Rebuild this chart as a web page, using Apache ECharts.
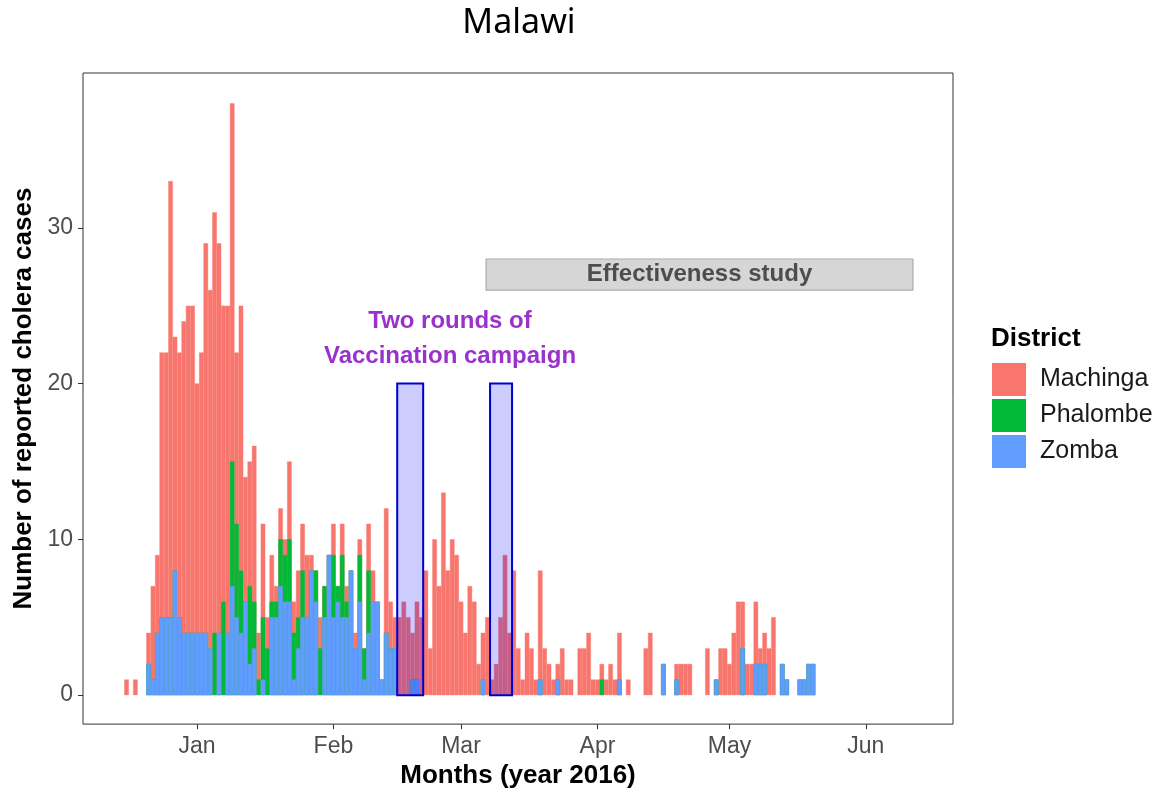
<!DOCTYPE html>
<html>
<head>
<meta charset="utf-8">
<script src="https://cdn.jsdelivr.net/npm/echarts@6/dist/echarts.min.js"></script>
<style>html,body{margin:0;padding:0;background:#fff}#chart{width:1160px;height:794px}</style>
</head>
<body>
<div id="chart"></div>
<script>
// ---- data (daily reported cholera cases, first day = 2015-12-16) ----
const firstDate = '2015-12-16';
const districts = ['Machinga', 'Phalombe', 'Zomba'];
const machinga = [
  1,0,1,0,0,
  2,6,5,17,17,28,15,17,20,21,21,
  16,18,25,23,27,25,19,21,23,11,
  17,8,8,10,3,6,2,3,1,2,
  1,5,2,3,3,4,1,0,2,0,
  0,2,0,2,1,0,1,1,0,3,
  2,0,0,8,3,2,5,6,5,3,
  5,5,8,3,10,7,13,8,10,9,
  6,4,7,6,2,3,5,1,2,5,
  9,4,8,3,1,4,3,1,7,3,
  2,1,1,3,1,1,0,3,3,4,
  1,1,1,1,2,1,3,0,1,0,
  0,0,3,4,0,0,0,0,0,1,
  2,2,2,0,0,0,3,0,0,3,
  3,2,4,6,3,2,2,4,1,2,
  3,5,0,0,0,0,0,0,0,0,0
];
const phalombe = [
  0,0,0,0,0,0,0,0,0,0,0,0,0,0,0,0,
  0,0,0,0,4,0,6,0,8,6,
  4,0,5,3,1,4,3,1,1,3,
  3,4,3,2,3,0,0,2,3,2,
  0,4,1,4,1,0,0,3,2,4,
  0,0,0,0,0,0,0,0,0,0,
  0,0,0,0,0,0,0,0,0,0,
  0,0,0,0,0,0,0,0,0,0,
  0,0,0,0,0,0,0,0,0,0,
  0,0,0,0,0,0,0,0,0,0,
  0,0,1,0,0,0,0,0,0,0,
  0,0,0,0,0,0,0,0,0,0,
  0,0,0,0,0,0,0,0,0,0,
  0,0,0,0,0,0,0,0,0,0,
  0,0,0,0,0,0,0,0,0,0,
  0
];
const zomba = [
  0,0,0,0,0,
  2,1,4,5,5,5,8,5,4,4,4,
  4,4,4,3,0,4,0,4,7,5,
  4,6,2,3,0,1,0,5,5,7,
  6,6,1,3,5,5,8,6,0,5,
  9,5,6,5,5,8,3,6,1,4,
  6,6,1,4,3,3,0,0,0,1,
  1,0,0,0,0,0,0,0,0,0,
  0,0,0,0,0,1,0,0,0,0,
  0,0,0,0,0,0,0,0,1,0,
  0,0,1,0,0,0,0,0,0,0,
  0,0,0,0,0,0,1,0,0,0,
  0,0,0,0,0,0,2,0,0,1,
  0,0,0,0,0,0,0,0,1,0,
  0,0,0,0,3,0,0,2,2,2,
  0,0,0,2,1,0,0,1,1,2,2
];
const monthStarts = ['2016-01-01','2016-02-01','2016-03-01','2016-04-01','2016-05-01','2016-06-01'];
const monthLabels = ['Jan','Feb','Mar','Apr','May','Jun'];
const yTicks = [0, 10, 20, 30];
// annotations (x in days since 2016-01-01, y in cases)
const vaccinationRounds = [[45.5, 51.4], [66.6, 71.6]];
const vaccinationTop = 20;
const studyPeriod = [65.7, 162.7];
const studyBand = [26, 28];
const studyLabel = 'Effectiveness study';
const campaignLabel = 'Two rounds of\nVaccination campaign';
const campaignLabelAt = [57.5, 22.9];

// ---- helpers ----
const DAY = 86400000;
const dayOf = s => (Date.parse(s + 'T00:00:00Z') - Date.parse('2016-01-01T00:00:00Z')) / DAY;
const d0 = dayOf(firstDate);
const monthDays = monthStarts.map(dayOf);
// stacked layers (Zomba bottom, Phalombe middle, Machinga top, as in a stacked histogram)
const layerZomba = zomba.slice();
const layerPhalombe = zomba.map((z, i) => z + phalombe[i]);
const layerMachinga = layerPhalombe.map((v, i) => v + machinga[i]);
const toPairs = arr => arr.map((v, i) => [d0 + i, v === 0 ? null : v]);

const colors = { Machinga: '#F8766D', Phalombe: '#00BA38', Zomba: '#619CFF' };
const FONT = '"Liberation Sans", Arial, sans-serif';

const chart = echarts.init(document.getElementById('chart'), null, { renderer: 'canvas' });

const barSeries = (name, arr, z) => ({
  name, type: 'bar', data: toPairs(arr),
  barWidth: 4.5, barGap: '-100%',
  itemStyle: { color: colors[name], borderColor: colors[name], borderWidth: 0.4 },
  emphasis: { disabled: true }, z
});

chart.setOption({
  animation: false,
  backgroundColor: '#ffffff',
  graphic: [
    { type: 'text', x: 519, y: 23, style: { text: 'Malawi', font: '34px "Noto Sans", sans-serif', fill: '#000', align: 'center', verticalAlign: 'middle' } },
    { type: 'text', x: 991, y: 339, style: { text: 'District', font: 'bold 26px ' + FONT, fill: '#000', align: 'left', verticalAlign: 'middle' } }
  ],
  grid: { left: 83, right: 207, top: 73, bottom: 69, show: true, borderColor: '#333333', borderWidth: 1, backgroundColor: 'transparent' },
  legend: {
    data: districts, orient: 'vertical', left: 992, top: 363, padding: 0,
    itemWidth: 34, itemHeight: 33, itemGap: 3, icon: 'rect', selectedMode: false,
    itemStyle: { borderWidth: 0 },
    textStyle: { fontSize: 25, color: '#1a1a1a', fontFamily: FONT, padding: [0, 0, 0, 9] }
  },
  xAxis: {
    type: 'value', min: -25.9, max: 171.8,
    name: 'Months (year 2016)', nameLocation: 'middle', nameGap: 37,
    nameTextStyle: { fontSize: 26, fontWeight: 'bold', color: '#000', fontFamily: FONT },
    axisLine: { show: false, onZero: false }, splitLine: { show: false },
    axisTick: { show: true, length: 5, customValues: monthDays, lineStyle: { color: '#333', width: 1 } },
    axisLabel: { customValues: monthDays, margin: 11, fontSize: 23, color: '#4d4d4d', fontFamily: FONT,
      formatter: v => monthLabels[monthDays.indexOf(v)] }
  },
  yAxis: {
    type: 'value', min: -1.86, max: 39.94,
    name: 'Number of reported cholera cases', nameLocation: 'middle', nameGap: 44,
    nameTextStyle: { fontSize: 26, fontWeight: 'bold', color: '#000', fontFamily: FONT },
    axisLine: { show: false, onZero: false }, splitLine: { show: false },
    axisTick: { show: true, length: 5, customValues: yTicks, lineStyle: { color: '#333', width: 1 } },
    axisLabel: { customValues: yTicks, margin: 10, fontSize: 23, color: '#4d4d4d', fontFamily: FONT }
  },
  series: [
    barSeries('Machinga', layerMachinga, 2),
    barSeries('Phalombe', layerPhalombe, 3),
    barSeries('Zomba', layerZomba, 4),
    {
      type: 'custom', name: 'study', z: 5, silent: true,
      data: [[studyPeriod[0], studyPeriod[1], studyBand[0], studyBand[1]]],
      renderItem: (params, api) => {
        const a = api.coord([api.value(0), api.value(3)]);
        const b = api.coord([api.value(1), api.value(2)]);
        return { type: 'group', children: [
          { type: 'rect', shape: { x: a[0], y: a[1], width: b[0] - a[0], height: b[1] - a[1] },
            style: { fill: '#d6d6d6', stroke: '#ababab', lineWidth: 1.2 } },
          { type: 'text', x: (a[0] + b[0]) / 2, y: (a[1] + b[1]) / 2,
            style: { text: studyLabel, font: 'bold 24px ' + FONT, fill: '#4d4d4d', align: 'center', verticalAlign: 'middle' } }
        ] };
      }
    },
    {
      type: 'custom', name: 'vaccination', z: 6, silent: true,
      data: vaccinationRounds.map(r => [r[0], r[1], 0, vaccinationTop]),
      renderItem: (params, api) => {
        const a = api.coord([api.value(0), api.value(3)]);
        const b = api.coord([api.value(1), api.value(2)]);
        return { type: 'rect', shape: { x: a[0], y: a[1], width: b[0] - a[0], height: b[1] - a[1] },
          style: { fill: 'rgba(0,0,255,0.2)', stroke: '#0000CD', lineWidth: 2 } };
      }
    },
    {
      type: 'custom', name: 'campaignLabel', z: 7, silent: true,
      data: [campaignLabelAt],
      renderItem: (params, api) => {
        const p = api.coord([api.value(0), api.value(1)]);
        return { type: 'text', x: p[0], y: p[1],
          style: { text: campaignLabel, font: 'bold 24px ' + FONT, fill: '#9932CC', align: 'center', verticalAlign: 'middle', lineHeight: 35 } };
      }
    }
  ]
});
</script>
</body>
</html>
